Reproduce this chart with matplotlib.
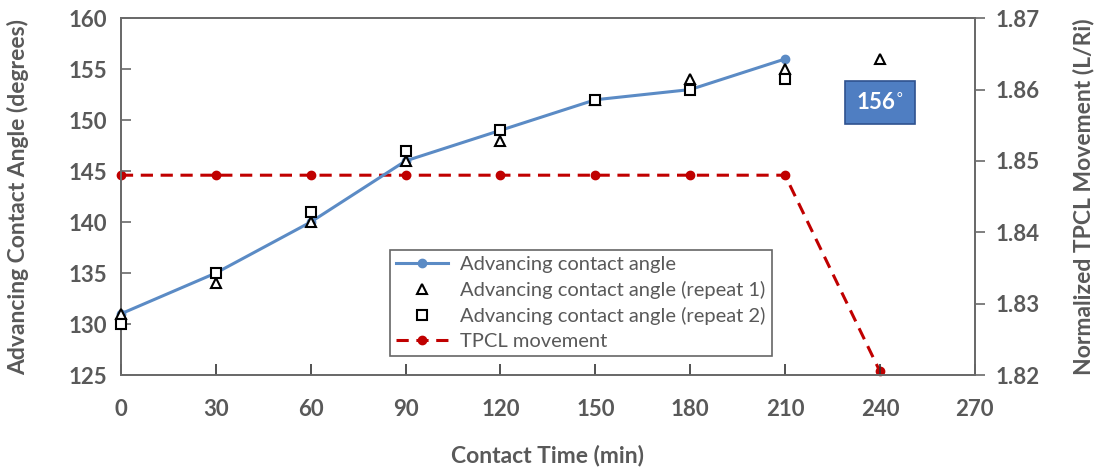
import matplotlib.pyplot as plt

plt.rcParams['font.family'] = ['Lato', 'DejaVu Sans']

time_min = [0, 30, 60, 90, 120, 150, 180, 210]
angle = [131, 135, 140, 146, 149, 152, 153, 156]
time_rep1 = [0, 30, 60, 90, 120, 150, 180, 210, 240]
angle_rep1 = [131, 134, 140, 146, 148, 152, 154, 155, 156]
time_rep2 = [0, 30, 60, 90, 120, 150, 180, 210]
angle_rep2 = [130, 135, 141, 147, 149, 152, 153, 154]
time_tpcl = [0, 30, 60, 90, 120, 150, 180, 210, 240]
tpcl = [1.848, 1.848, 1.848, 1.848, 1.848, 1.848, 1.848, 1.848, 1.8205]

grey = '#595959'

fig = plt.figure(figsize=(10.99, 4.67), dpi=100)
ax = fig.add_axes([0.110, 0.197, 0.777, 0.764])
ax2 = ax.twinx()
ax.set_zorder(2)
ax.patch.set_visible(False)

l1, = ax.plot(time_min, angle, color='#5B8BC5', lw=2.2, marker='o', ms=6,
              label='Advancing contact angle', zorder=3, clip_on=False)
l2, = ax.plot(time_rep1, angle_rep1, ls='none', marker='^', ms=7, mfc='white',
              mec='black', mew=1.5, label='Advancing contact angle (repeat 1)', zorder=4,
              clip_on=False)
l3, = ax.plot(time_rep2, angle_rep2, ls='none', marker='s', ms=7, mfc='white',
              mec='black', mew=1.5, label='Advancing contact angle (repeat 2)', zorder=4,
              clip_on=False)
l4, = ax2.plot(time_tpcl, tpcl, color='#C00000', lw=2.2, ls=(0, (4, 2.5)), marker='o',
               ms=6, label='TPCL movement', clip_on=False)

ax.set_xlim(0, 270)
ax.set_ylim(125, 160)
ax2.set_ylim(1.82, 1.87)
ax.set_xticks(range(0, 271, 30))
ax.set_yticks(range(125, 161, 5))
ax2.set_yticks([1.82, 1.83, 1.84, 1.85, 1.86, 1.87])
ax2.set_yticklabels(['1.82', '1.83', '1.84', '1.85', '1.86', '1.87'])

for a in (ax, ax2):
    for s in ('left', 'right', 'bottom', 'top'):
        a.spines[s].set_color('#6a6a6a')
        a.spines[s].set_linewidth(1.3)
    a.tick_params(colors=grey, labelsize=16, width=1.2)
    for lab in a.get_xticklabels() + a.get_yticklabels():
        lab.set_fontweight('bold')
ax.tick_params(axis='x', direction='in', length=8, pad=17, color='#333333')
ax.tick_params(axis='y', direction='in', length=7, pad=10, color='#6a6a6a')
ax2.tick_params(axis='y', direction='out', length=7, pad=8, color='#6a6a6a')

ax.set_xlabel('Contact Time (min)', fontsize=16.5, fontweight='bold', color=grey, labelpad=18)
ax.set_ylabel('Advancing Contact Angle (degrees)', fontsize=16.5, fontweight='bold', color=grey,
              labelpad=28)
ax2.set_ylabel('Normalized TPCL Movement (L/Ri)', fontsize=16.5, fontweight='bold', color=grey,
               labelpad=24)

leg = ax.legend(handles=[l1, l2, l3, l4], loc='lower left', bbox_to_anchor=(0.315, 0.052),
                fontsize=14.5, frameon=True, fancybox=False, borderpad=0.3,
                handlelength=2.6, labelspacing=0.4, borderaxespad=0, handletextpad=0.6)
leg.get_frame().set_edgecolor('#404040')
leg.get_frame().set_linewidth(1.2)
for t in leg.get_texts():
    t.set_color(grey)
leg.set_zorder(5)

ax.text(240, 151.7, '156$^{\\circ}$', ha='center', va='center', fontsize=16, fontweight='bold',
        color='white', zorder=6,
        bbox=dict(boxstyle='square,pad=0.5', fc='#4F7EC2', ec='#2F528F', lw=1.2))

fig.savefig('out.png', dpi=100)
